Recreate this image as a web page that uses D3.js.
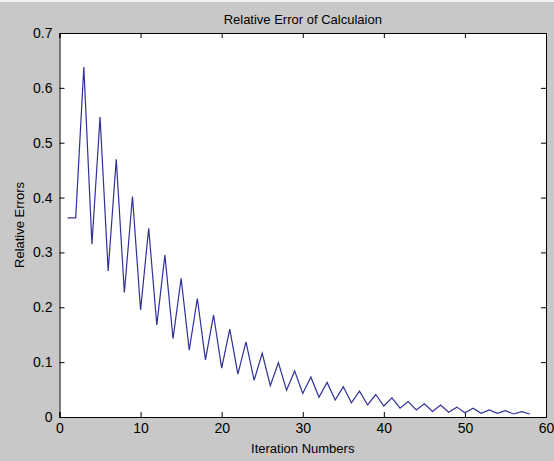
<!doctype html>
<html>
  <head>
    <meta charset="utf-8">
    <title>Relative Error of Calculaion</title>
    <style>
      html, body { margin: 0; padding: 0; background: #c8c8c8; }
      svg { display: block; }
      text { font-family: "Liberation Sans", Arial, sans-serif; fill: #000; }
    </style>
  </head>
  <body>
    <div id="chart"></div>

    <script src="https://d3js.org/d3.v7.min.js"></script>
    <script>
      // values, one per iteration
      var iterations = d3.range(1, 59);
      var errors = [
        0.363, 0.363, 0.638, 0.315, 0.547, 0.266, 0.470, 0.227, 0.402, 0.195,
        0.344, 0.168, 0.295, 0.143, 0.253, 0.122, 0.216, 0.104, 0.186, 0.089,
        0.160, 0.078, 0.137, 0.067, 0.116, 0.057, 0.099, 0.049, 0.084, 0.043,
        0.073, 0.036, 0.063, 0.031, 0.055, 0.026, 0.047, 0.022, 0.041, 0.020,
        0.035, 0.016, 0.028, 0.013, 0.024, 0.010, 0.022, 0.0086, 0.018, 0.0078,
        0.016, 0.0067, 0.013, 0.0067, 0.0115, 0.0055, 0.0097, 0.0055
      ];
      var xTicks = [0, 10, 20, 30, 40, 50, 60];
      var yTicks = [0, 0.1, 0.2, 0.3, 0.4, 0.5, 0.6, 0.7];

      var width = 554;
      var height = 461;
      var margin = { top: 33, right: 8, bottom: 44, left: 59.5 };
      var innerW = width - margin.left - margin.right;
      var innerH = height - margin.top - margin.bottom;

      var svg = d3.select('#chart')
        .append('svg')
        .attr('width', width)
        .attr('height', height);

      svg.append('rect')
        .attr('width', width)
        .attr('height', height)
        .attr('fill', '#c8c8c8');
      svg.append('rect')
        .attr('width', width)
        .attr('height', 2)
        .attr('fill', '#f0f0f0');

      var g = svg.append('g')
        .attr('transform', 'translate(' + margin.left + ',' + margin.top + ')');

      var x = d3.scaleLinear().domain([0, 60]).range([0, innerW]);
      var y = d3.scaleLinear().domain([0, 0.7]).range([innerH, 0]);

      g.append('rect')
        .attr('width', innerW)
        .attr('height', innerH)
        .attr('fill', '#fff');

      // inward ticks on all four sides, like matlab
      var tickLen = 5;
      g.append('g')
        .attr('transform', 'translate(0,' + innerH + ')')
        .call(d3.axisBottom(x).tickValues(xTicks).tickSize(-tickLen).tickPadding(6).tickFormat(d3.format('d')));
      g.append('g')
        .call(d3.axisTop(x).tickValues(xTicks).tickSize(-tickLen).tickFormat(''));
      g.append('g')
        .call(d3.axisLeft(y).tickValues(yTicks).tickSize(-tickLen).tickPadding(7).tickFormat(function(d) { return d === 0 ? '0' : d3.format('.1f')(d); }));
      g.append('g')
        .attr('transform', 'translate(' + innerW + ',0)')
        .call(d3.axisRight(y).tickValues(yTicks).tickSize(-tickLen).tickFormat(''));

      g.selectAll('.domain').attr('stroke', '#000');
      g.selectAll('.tick line').attr('stroke', '#000');
      g.selectAll('.tick text')
        .attr('font-size', 14)
        .attr('font-family', '"Liberation Sans", Arial, sans-serif')
        .attr('fill', '#111');

      var line = d3.line()
        .x(function(d, i) { return x(iterations[i]); })
        .y(function(d) { return y(d); });

      g.append('path')
        .datum(errors)
        .attr('d', line)
        .attr('fill', 'none')
        .attr('stroke', '#30309a')
        .attr('stroke-width', 1.2);

      svg.append('text')
        .attr('x', margin.left + innerW / 2)
        .attr('y', 24)
        .attr('text-anchor', 'middle')
        .attr('font-size', 13)
        .text('Relative Error of Calculaion');

      svg.append('text')
        .attr('x', margin.left + innerW / 2)
        .attr('y', 453)
        .attr('text-anchor', 'middle')
        .attr('font-size', 13)
        .text('Iteration Numbers');

      svg.append('text')
        .attr('transform', 'translate(24,' + (margin.top + innerH / 2) + ') rotate(-90)')
        .attr('text-anchor', 'middle')
        .attr('font-size', 13)
        .text('Relative Errors');
    </script>
  </body>
</html>
